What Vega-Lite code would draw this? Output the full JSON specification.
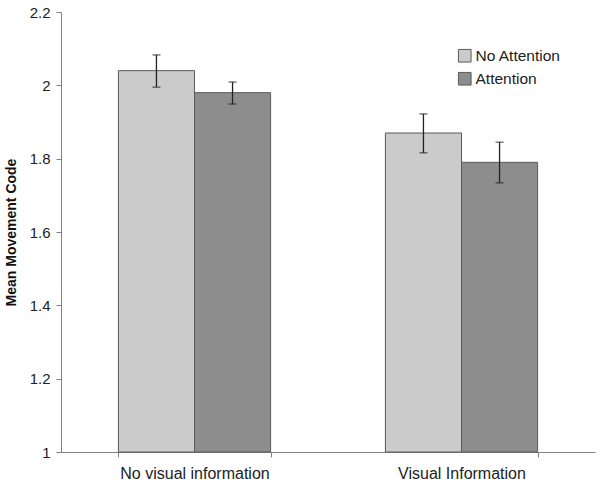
{
  "$schema": "https://vega.github.io/schema/vega-lite/v6.json",
  "autosize": "none",
  "width": 534,
  "height": 440,
  "padding": {"left": 61, "top": 12, "right": 5, "bottom": 34},
  "background": "white",
  "config": {
    "font": "Liberation Sans",
    "view": {"stroke": null}
  },
  "data": {
    "values": [
      {"cond": "No visual information", "group": "No Attention", "mean": 2.04, "lo": 1.995, "hi": 2.083},
      {"cond": "No visual information", "group": "Attention", "mean": 1.98, "lo": 1.949, "hi": 2.009},
      {"cond": "Visual Information", "group": "No Attention", "mean": 1.87, "lo": 1.816, "hi": 1.922},
      {"cond": "Visual Information", "group": "Attention", "mean": 1.79, "lo": 1.734, "hi": 1.845}
    ]
  },
  "encoding": {
    "x": {
      "field": "cond", "type": "nominal", "title": null,
      "sort": ["No visual information", "Visual Information"],
      "scale": {"paddingInner": 0.43, "paddingOuter": 0.215},
      "axis": {
        "labelAngle": 0, "labelFontSize": 16, "labelColor": "#222", "labelPadding": 8,
        "domainColor": "#808080", "tickColor": "#808080", "tickBand": "extent", "tickSize": 5
      }
    },
    "xOffset": {"field": "group", "type": "nominal", "sort": ["No Attention", "Attention"], "scale": {"paddingInner": 0, "paddingOuter": 0}}
  },
  "layer": [
    {
      "mark": {"type": "bar", "stroke": "#5a5a5a", "strokeWidth": 1},
      "encoding": {
        "y": {
          "field": "mean", "type": "quantitative", "stack": null,
          "title": "Mean Movement Code",
          "scale": {"domain": [1, 2.2], "zero": false, "nice": false},
          "axis": {
            "values": [1, 1.2, 1.4, 1.6, 1.8, 2, 2.2], "format": "~g", "grid": false,
            "labelFontSize": 15, "labelColor": "#222", "labelPadding": 6,
            "domainColor": "#808080", "tickColor": "#808080", "tickSize": 5,
            "titleFontSize": 14, "titleFontWeight": "bold", "titleColor": "#111", "titlePadding": 11
          }
        },
        "y2": {"datum": 1},
        "fill": {
          "field": "group", "type": "nominal", "sort": ["No Attention", "Attention"],
          "scale": {"domain": ["No Attention", "Attention"], "range": ["#cbcbcb", "#8d8d8d"]},
          "legend": {
            "title": null, "orient": "none", "legendX": 396, "legendY": 36,
            "symbolType": "square", "symbolSize": 160, "symbolStrokeColor": "#5a5a5a", "symbolStrokeWidth": 1,
            "symbolOpacity": 1,
            "labelFontSize": 15.5, "labelColor": "#222", "rowPadding": 5, "labelOffset": 3
          }
        }
      }
    },
    {
      "mark": {"type": "rule", "color": "#222", "strokeWidth": 1.3},
      "encoding": {
        "y": {"field": "lo", "type": "quantitative"},
        "y2": {"field": "hi"}
      }
    },
    {
      "mark": {"type": "tick", "color": "#222", "size": 8, "thickness": 1.3},
      "encoding": {"y": {"field": "lo", "type": "quantitative"}}
    },
    {
      "mark": {"type": "tick", "color": "#222", "size": 8, "thickness": 1.3},
      "encoding": {"y": {"field": "hi", "type": "quantitative"}}
    }
  ]
}
